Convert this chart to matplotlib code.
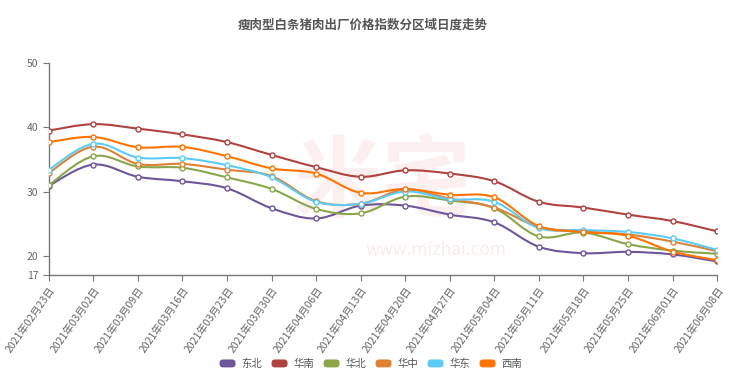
import numpy as np
import matplotlib
matplotlib.use('Agg')
import matplotlib.pyplot as plt
from matplotlib.path import Path
from matplotlib.patches import PathPatch, FancyBboxPatch
from matplotlib.legend_handler import HandlerPatch

plt.rcParams['font.family'] = ['Noto Sans CJK SC', 'DejaVu Sans']

# 日期
fechas = ['2021年02月23日', '2021年03月02日', '2021年03月09日', '2021年03月16日',
          '2021年03月23日', '2021年03月30日', '2021年04月06日', '2021年04月13日',
          '2021年04月20日', '2021年04月27日', '2021年05月04日', '2021年05月11日',
          '2021年05月18日', '2021年05月25日', '2021年06月01日', '2021年06月08日']

dongbei = [30.9, 34.2, 32.3, 31.6, 30.5, 27.4, 25.8, 27.8, 27.8, 26.4, 25.2, 21.4, 20.4, 20.6, 20.2, 19.1]
huanan = [39.5, 40.5, 39.8, 38.9, 37.7, 35.7, 33.8, 32.3, 33.3, 32.8, 31.6, 28.4, 27.5, 26.4, 25.4, 23.8]
huabei = [31.0, 35.5, 33.9, 33.7, 32.2, 30.4, 27.3, 26.6, 29.2, 28.6, 27.4, 23.0, 23.6, 21.8, 20.8, 20.3]
huazhong = [32.9, 37.0, 34.3, 34.3, 33.4, 32.4, 28.5, 28.1, 30.3, 28.9, 27.5, 24.5, 23.8, 23.3, 22.2, 20.7]
huadong = [33.4, 37.45, 35.3, 35.2, 34.1, 32.2, 28.4, 28.1, 30.0, 28.8, 28.4, 24.3, 24.0, 23.7, 22.7, 20.9]
xinan = [37.7, 38.5, 36.9, 36.95, 35.5, 33.6, 32.8, 29.8, 30.4, 29.5, 29.1, 24.6, 23.7, 23.1, 20.65, 19.3]

nombres = ['东北', '华南', '华北', '华中', '华东', '西南']
colores = ['#6f5599', '#b0423f', '#89a64a', '#de8035', '#5cccf6', '#ff7300']
series = [dongbei, huanan, huabei, huazhong, huadong, xinan]


def curva_suave(ax, xs, ys, color):
    # Catmull-Rom -> Bezier, solo para dibujar la linea suave
    xs = np.asarray(xs, float)
    ys = np.asarray(ys, float)
    verts = [(xs[0], ys[0])]
    codes = [Path.MOVETO]
    n = len(xs)
    t = 0.35
    for i in range(n - 1):
        x0, y0 = (xs[i - 1], ys[i - 1]) if i > 0 else (xs[i], ys[i])
        x1, y1 = xs[i], ys[i]
        x2, y2 = xs[i + 1], ys[i + 1]
        x3, y3 = (xs[i + 2], ys[i + 2]) if i + 2 < n else (x2, y2)
        c1 = (x1 + (x2 - x0) * t / 2, y1 + (y2 - y0) * t / 2)
        c2 = (x2 - (x3 - x1) * t / 2, y2 - (y3 - y1) * t / 2)
        verts += [c1, c2, (x2, y2)]
        codes += [Path.CURVE4] * 3
    ax.add_patch(PathPatch(Path(verts, codes), facecolor='none', edgecolor=color, lw=1.5, zorder=2))


class CajaRedonda(HandlerPatch):
    def create_artists(self, legend, orig_handle, xdescent, ydescent, width, height, fontsize, trans):
        p = FancyBboxPatch((-xdescent + 1, -ydescent + 0.5), width - 2, height - 1,
                           boxstyle='round,pad=0,rounding_size=2.5',
                           facecolor=orig_handle.get_facecolor(), edgecolor='none', transform=trans)
        return [p]


fig = plt.figure(figsize=(7.4, 3.9), dpi=100)
ax = fig.add_axes([0.066, 0.295, 0.903, 0.543])

x = np.arange(len(fechas))
for datos, color, nombre in zip(series, colores, nombres):
    curva_suave(ax, x, datos, color)
    ax.plot(x, datos, linestyle='none', marker='o', markersize=3.6, markerfacecolor='white',
            markeredgecolor=color, markeredgewidth=1.0, zorder=3)

# marca de agua
ax.text(0.50, 0.43, '米宅', transform=ax.transAxes, fontsize=64, fontweight='bold', color='#e53935',
        alpha=0.08, ha='center', va='center', zorder=0)
ax.text(0.58, 0.12, 'www.mizhai.com', transform=ax.transAxes, fontsize=12.5, color='#e53935',
        alpha=0.1, ha='center', va='center', zorder=0)

ax.set_xlim(0, len(fechas) - 1)
ax.set_ylim(17, 50)
ax.set_yticks([17, 20, 30, 40, 50])
ax.set_xticks(x)
ax.set_xticklabels(fechas, rotation=55, ha='right', rotation_mode='anchor')
for s in ['top', 'right']:
    ax.spines[s].set_visible(False)
for s in ['left', 'bottom']:
    ax.spines[s].set_color('#777777')
    ax.spines[s].set_linewidth(1.0)
ax.tick_params(axis='both', colors='#777777', labelcolor='#666666', labelsize=7.5, length=4)

fig.text(0.49, 0.935, '瘦肉型白条猪肉出厂价格指数分区域日度走势', ha='center', va='center',
         fontsize=9, fontweight='bold', color='#555555')

manijas = [FancyBboxPatch((0, 0), 1, 1, facecolor=c) for c in colores]
fig.legend(manijas, nombres, loc='center', bbox_to_anchor=(0.5, 0.067), ncol=6, frameon=False,
           fontsize=7.5, handlelength=1.8, handleheight=1.0, columnspacing=0.8, handletextpad=0.4,
           labelcolor='#555555', handler_map={FancyBboxPatch: CajaRedonda()})

plt.savefig('out.png', dpi=100)
plt.close()
